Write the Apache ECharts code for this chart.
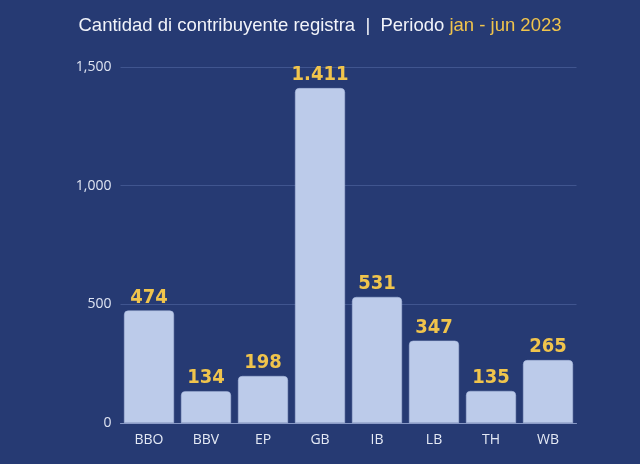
<!DOCTYPE html>
<html><head><meta charset="utf-8">
<script src="https://cdn.jsdelivr.net/npm/echarts@6/dist/echarts.min.js"></script>
<style>html,body{margin:0;padding:0;background:#263a73;}#c{width:640px;height:464px;}</style>
</head><body><div id="c"></div>
<script>
const categories = ['BBO','BBV','EP','GB','IB','LB','TH','WB'];
const values = [474,134,198,1411,531,347,135,265];
const yTicks = [0,500,1000,1500];

const chart = echarts.init(document.getElementById('c'), null, {renderer:'canvas'});
chart.setOption({
  backgroundColor:'#263a73',
  animation:false,
  title:{
    text:'{w|Cantidad di contribuyente registra  |  Periodo }{y|jan - jun 2023}',
    left:'center', top:11,
    textStyle:{rich:{
      w:{color:'#f2f4fa',fontSize:18.5,fontWeight:'normal',fontFamily:'Liberation Sans, Arial'},
      y:{color:'#f0c44c',fontSize:18.5,fontWeight:'normal',fontFamily:'Liberation Sans, Arial'}
    }}
  },
  grid:{left:120.5,right:63.5,top:67,bottom:41,containLabel:false},
  xAxis:{
    type:'category', data:categories,
    axisLine:{lineStyle:{color:'#8899c6',width:1}},
    axisTick:{show:false},
    axisLabel:{color:'#e4e9f5',fontSize:14,fontFamily:'Open Sans',margin:10}
  },
  yAxis:{
    type:'value', min:0, max:1500, interval:500,
    axisLine:{show:false}, axisTick:{show:false},
    splitLine:{lineStyle:{color:'#40558f',width:1}},
    axisLabel:{color:'#dfe4f2',fontSize:14,fontFamily:'Open Sans',margin:9,
      formatter:v=>v.toLocaleString('en-US')}
  },
  series:[{
    type:'bar', data:values, barWidth:50,
    itemStyle:{color:'#bccbea',borderRadius:[4,4,0,0],borderColor:'#a9b8dc',borderWidth:0.5},
    label:{show:true,position:'top',distance:3,color:'#f0c44c',fontSize:20,fontWeight:'bold',
      fontFamily:'DejaVu Sans Condensed, DejaVu Sans',
      formatter:p=>p.value.toLocaleString('de-DE')}
  }]
});
</script></body></html>
